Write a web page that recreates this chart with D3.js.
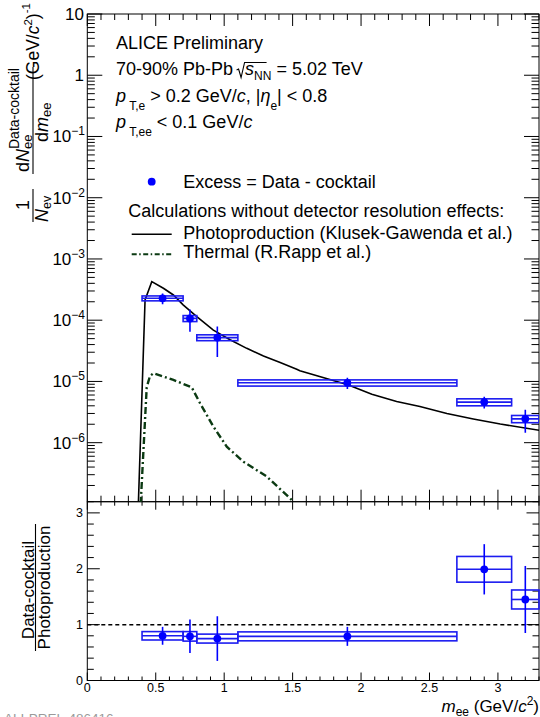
<!DOCTYPE html>
<html>
<head>
<meta charset="utf-8">
<script src="https://cdn.jsdelivr.net/npm/d3@7"></script>
<style>
  body { margin: 0; background: #fff; }
  svg { display: block; }
  text { font-family: "Liberation Sans", Arial, Helvetica, sans-serif; fill: #000; }
</style>
</head>
<body>
<svg id="chart" width="540" height="717"></svg>
<script>
// ---- data ----
// mass bins (GeV/c^2)
const binLow    = [0.4, 0.7, 0.8, 1.1, 2.7, 3.1];
const binHigh   = [0.7, 0.8, 1.1, 2.7, 3.1, 3.3];
const binCenter = [0.55, 0.75, 0.95, 1.9, 2.9, 3.2];

// excess yield = data - cocktail, with statistical and systematic uncertainties
const excessYield = [2.28e-4, 1.07e-4, 5.2e-5, 9.5e-6, 4.6e-6, 2.45e-6];
const excessStat  = [0.46e-4, 0.42e-4, 2.7e-5, 2.0e-6, 1.0e-6, 1.0e-6];
const excessSys   = [0.21e-4, 0.12e-4, 0.57e-5, 1.1e-6, 0.6e-6, 0.33e-6];

// ratio (data - cocktail) / photoproduction
const ratioValue = [0.80, 0.79, 0.75, 0.79, 1.99, 1.45];
const ratioStat  = [0.16, 0.30, 0.40, 0.17, 0.45, 0.60];
const ratioSys   = [0.075, 0.085, 0.08, 0.08, 0.23, 0.17];

// photoproduction calculation (Klusek-Gawenda et al.)
const photoMass  = [0.373, 0.422, 0.471, 0.556, 0.629, 0.70, 0.80, 0.921, 1.043, 1.165, 1.287, 1.409, 1.53, 1.553, 1.903, 2.079, 2.26, 2.43, 2.627, 2.82, 3.017, 3.309];
const photoYield = [1.0e-7, 2.14e-4, 4.26e-4, 3.32e-4, 2.58e-4, 1.78e-4, 1.14e-4, 6.9e-5, 4.8e-5, 3.47e-5, 2.6e-5, 2.03e-5, 1.58e-5, 1.5e-5, 8.8e-6, 6.2e-6, 4.7e-6, 3.9e-6, 3.0e-6, 2.44e-6, 2.02e-6, 1.58e-6];

// thermal calculation (R. Rapp et al.)
const thermalMass  = [0.39, 0.434, 0.458, 0.483, 0.629, 0.763, 0.824, 0.921, 1.019, 1.14, 1.311, 1.494, 1.52];
const thermalYield = [1.0e-7, 8.0e-6, 1.23e-5, 1.36e-5, 1.06e-5, 8.0e-6, 4.4e-6, 1.83e-6, 8.6e-7, 4.9e-7, 2.8e-7, 1.16e-7, 0.9e-7];

// axis ticks
const xMajorTicks = [0, 0.5, 1, 1.5, 2, 2.5, 3];
const xTickLabels = ["0", "0.5", "1", "1.5", "2", "2.5", "3"];
const yDecades = [1, 0, -1, -2, -3, -4, -5, -6];
const ratioTicks = [0, 1, 2, 3];

// ---- layout ----
const svg = d3.select("#chart");
const padL = 87.3, padR = 539, padT = 14, padMid = 501.7, padB = 680.5;
const blue = "#0000ff", boxBlue = "#1c1cf0", green = "#0b3a12";

const x = d3.scaleLinear().domain([0, 3.3]).range([padL, padR]);
const y = d3.scaleLog().domain([1.087e-7, 10]).range([padMid, padT]);
const yr = d3.scaleLinear().domain([0, 3.2]).range([padB, padMid]);

svg.append("defs").append("clipPath").attr("id", "upperClip")
  .append("rect").attr("x", padL).attr("y", padT).attr("width", padR - padL).attr("height", padMid - padT);

// ---- helpers ----
function rich(g, px, py, parts, size, anchor) {
  const t = g.append("text").attr("x", px).attr("y", py)
    .attr("font-size", size).attr("text-anchor", anchor || "start")
    .attr("xml:space", "preserve");
  let cur = 0;
  parts.forEach(p => {
    const s = t.append("tspan").text(p.t);
    const off = p.dy || 0;
    if (off - cur !== 0) s.attr("dy", off - cur);
    cur = off;
    if (p.it) s.attr("font-style", "italic");
    if (p.fs) s.attr("font-size", p.fs);
    if (p.dx) s.attr("dx", p.dx);
  });
  return t;
}
function seg(g, x1, y1, x2, y2, w) {
  return g.append("line").attr("x1", x1).attr("y1", y1).attr("x2", x2).attr("y2", y2)
    .attr("stroke", "#000").attr("stroke-width", w || 1);
}

// ---- frames ----
const axes = svg.append("g");
axes.append("rect").attr("x", padL).attr("y", padT).attr("width", padR - padL).attr("height", padMid - padT)
  .attr("fill", "none").attr("stroke", "#000").attr("stroke-width", 1);
axes.append("rect").attr("x", padL).attr("y", padMid).attr("width", padR - padL).attr("height", padB - padMid)
  .attr("fill", "none").attr("stroke", "#000").attr("stroke-width", 1);

// x ticks (both panels)
const xMinor = d3.range(0, 34).map(i => i / 10);
xMinor.forEach(v => {
  const isMajor = Math.abs(v * 2 - Math.round(v * 2)) < 1e-6;
  const px = x(v);
  const L1 = isMajor ? 12 : 6;
  const L2 = isMajor ? 8 : 4;
  seg(axes, px, padMid, px, padMid - L1);
  seg(axes, px, padT, px, padT + L1);
  seg(axes, px, padB, px, padB - L2);
  seg(axes, px, padMid, px, padMid + L2);
});

// upper y ticks (log)
const [yMin, yMax] = y.domain();
for (let d = -7; d <= 1; d++) {
  for (let k = 1; k <= 9; k++) {
    const v = k * Math.pow(10, d);
    if (v < yMin || v > yMax * 1.0001) continue;
    const L = k === 1 ? 15 : 7.5;
    seg(axes, padL, y(v), padL + L, y(v));
    seg(axes, padR, y(v), padR - L, y(v));
  }
}
// upper y labels
yDecades.forEach(d => {
  const py = y(Math.pow(10, d)) + 6;
  if (d === 1) rich(axes, 84, py, [{ t: "10" }], 17, "end");
  else if (d === 0) rich(axes, 84, py, [{ t: "1" }], 17, "end");
  else rich(axes, 85, py, [{ t: "10" }, { t: "\u2212" + (-d), fs: 12, dy: -7 }], 17, "end");
});

// lower y ticks
d3.range(0, 17).map(i => i * 0.2).forEach(v => {
  const isMajor = Math.abs(v - Math.round(v)) < 1e-6;
  const L = isMajor ? 12.5 : 6.5;
  seg(axes, padL, yr(v), padL + L, yr(v));
  seg(axes, padR, yr(v), padR - L, yr(v));
});
ratioTicks.forEach(v => {
  axes.append("text").attr("x", 83).attr("y", yr(v) + 4.5).attr("font-size", 12.5)
    .attr("text-anchor", "end").text(String(v));
});
// x labels
xMajorTicks.forEach((v, i) => {
  axes.append("text").attr("x", x(v)).attr("y", 692).attr("font-size", 12.5)
    .attr("text-anchor", "middle").text(xTickLabels[i]);
});

// ---- upper panel content ----
const upper = svg.append("g").attr("clip-path", "url(#upperClip)");
const lg = d3.line().x(d => x(d[0])).y(d => y(d[1]));

upper.append("path").datum(thermalMass.map((m, i) => [m, thermalYield[i]]))
  .attr("d", lg).attr("fill", "none").attr("stroke", green).attr("stroke-width", 2.4)
  .attr("stroke-dasharray", "7,3,2,3");
upper.append("path").datum(photoMass.map((m, i) => [m, photoYield[i]]))
  .attr("d", lg).attr("fill", "none").attr("stroke", "#000").attr("stroke-width", 1.6);

function drawPoints(g, ys, vals, stat, sys) {
  vals.forEach((v, i) => {
    g.append("rect").attr("x", x(binLow[i])).attr("y", ys(v + sys[i]))
      .attr("width", x(binHigh[i]) - x(binLow[i])).attr("height", ys(v - sys[i]) - ys(v + sys[i]))
      .attr("fill", "none").attr("stroke", boxBlue).attr("stroke-width", 1.6);
    g.append("line").attr("x1", x(binLow[i])).attr("x2", x(binHigh[i]))
      .attr("y1", ys(v)).attr("y2", ys(v)).attr("stroke", boxBlue).attr("stroke-width", 1.6);
    g.append("line").attr("x1", x(binCenter[i])).attr("x2", x(binCenter[i]))
      .attr("y1", ys(v + stat[i])).attr("y2", ys(v - stat[i])).attr("stroke", blue).attr("stroke-width", 1.6);
    g.append("circle").attr("cx", x(binCenter[i])).attr("cy", ys(v)).attr("r", 3.9).attr("fill", blue);
  });
}
drawPoints(upper, y, excessYield, excessStat, excessSys);

// ---- lower panel content ----
const lower = svg.append("g");
lower.append("line").attr("x1", padL).attr("x2", padR).attr("y1", yr(1)).attr("y2", yr(1))
  .attr("stroke", "#000").attr("stroke-width", 1.5).attr("stroke-dasharray", "4,3");
drawPoints(lower, yr, ratioValue, ratioStat, ratioSys);

// ---- text block ----
const info = svg.append("g");
rich(info, 116, 49, [{ t: "ALICE Preliminary" }], 18);
const l2 = rich(info, 116, 75, [{ t: "70-90% Pb-Pb" }], 18);
const rx = 116 + l2.node().getComputedTextLength() + 3.5;
info.append("path")
  .attr("d", `M${rx},70 L${rx + 2},69 L${rx + 4.5},77.5 L${rx + 8},62.5 L${rx + 30},62.5`)
  .attr("fill", "none").attr("stroke", "#000").attr("stroke-width", 1.1);
const l2b = rich(info, rx + 8.5, 75, [{ t: "s", it: true }, { t: "NN", fs: 12, dy: 4.5 }], 18);
const sEnd = rx + 8.5 + l2b.node().getComputedTextLength();
rich(info, sEnd + 5, 75, [{ t: "= 5.02 TeV" }], 18);
rich(info, 116, 101.7, [{ t: "p", it: true }, { t: " T,e", fs: 12, dy: 8 }, { t: " > 0.2 GeV/", dy: 0 },
  { t: "c", it: true }, { t: ", |" }, { t: "\u03b7", it: true }, { t: "e", fs: 12, dy: 8 }, { t: "| < 0.8", dy: 0 }], 18);
rich(info, 116, 128.3, [{ t: "p", it: true }, { t: " T,ee", fs: 12, dy: 8 }, { t: " < 0.1 GeV/", dy: 0 },
  { t: "c", it: true }], 18);

// ---- legend ----
const leg = svg.append("g");
leg.append("circle").attr("cx", 151.7).attr("cy", 181.7).attr("r", 3.9).attr("fill", blue);
rich(leg, 183.3, 187.7, [{ t: "Excess = Data - cocktail" }], 18);
rich(leg, 128.3, 216.7, [{ t: "Calculations without detector resolution effects:" }], 18);
leg.append("line").attr("x1", 131.7).attr("x2", 171.7).attr("y1", 234.3).attr("y2", 234.3)
  .attr("stroke", "#000").attr("stroke-width", 1.6);
rich(leg, 183.3, 239, [{ t: "Photoproduction (Klusek-Gawenda et al.)" }], 18);
leg.append("line").attr("x1", 131.7).attr("x2", 171.7).attr("y1", 254.3).attr("y2", 254.3)
  .attr("stroke", green).attr("stroke-width", 2).attr("stroke-dasharray", "5,2.5,1.5,2.5");
rich(leg, 183.3, 258.3, [{ t: "Thermal (R.Rapp et al.)" }], 18);

// ---- axis titles ----
const yt = svg.append("g").attr("transform", "rotate(-90)");
// 1 / N_ev
rich(yt, -205, 29, [{ t: "1" }], 18, "middle");
yt.append("line").attr("x1", -222).attr("x2", -189).attr("y1", 33).attr("y2", 33).attr("stroke", "#000").attr("stroke-width", 1.1);
rich(yt, -222, 48, [{ t: "N", it: true }, { t: "ev", fs: 12.5, dy: 3 }], 18);
// dN_ee^{Data-cocktail} / dm_ee
rich(yt, -172, 29, [{ t: "d" }, { t: "N", it: true }, { t: "ee", fs: 13, dy: 2.5 },
  { t: "Data-cocktail", fs: 14, dy: -10, dx: -14.5 }], 18);
yt.append("line").attr("x1", -174).attr("x2", -67).attr("y1", 33).attr("y2", 33).attr("stroke", "#000").attr("stroke-width", 1.1);
rich(yt, -142, 47.5, [{ t: "d" }, { t: "m", it: true }, { t: "ee", fs: 13, dy: 3 }], 18);
// (GeV/c^2)^-1
rich(yt, -80, 39, [{ t: "(GeV/" }, { t: "c", it: true }, { t: "2", fs: 11.5, dy: -7 }, { t: ")", dy: 0 },
  { t: "-1", fs: 11.5, dy: -9 }], 17.5);

// lower y title
rich(yt, -590, 34, [{ t: "Data-cocktail" }], 17, "middle");
yt.append("line").attr("x1", -651).attr("x2", -524).attr("y1", 35.5).attr("y2", 35.5).attr("stroke", "#000").attr("stroke-width", 1.1);
rich(yt, -587.5, 50, [{ t: "Photoproduction" }], 17, "middle");

// x title
rich(svg, 539, 712, [{ t: "m", it: true }, { t: "ee", fs: 12, dy: 4 }, { t: " (GeV/", dy: 0 }, { t: "c", it: true },
  { t: "2", fs: 12, dy: -7 }, { t: ")", dy: 0 }], 17, "end");

// figure id
svg.append("text").attr("x", 4).attr("y", 722.5).attr("font-size", 13.5).style("fill", "#9a9a9a").text("ALI-PREL-486416");
</script>
</body>
</html>
